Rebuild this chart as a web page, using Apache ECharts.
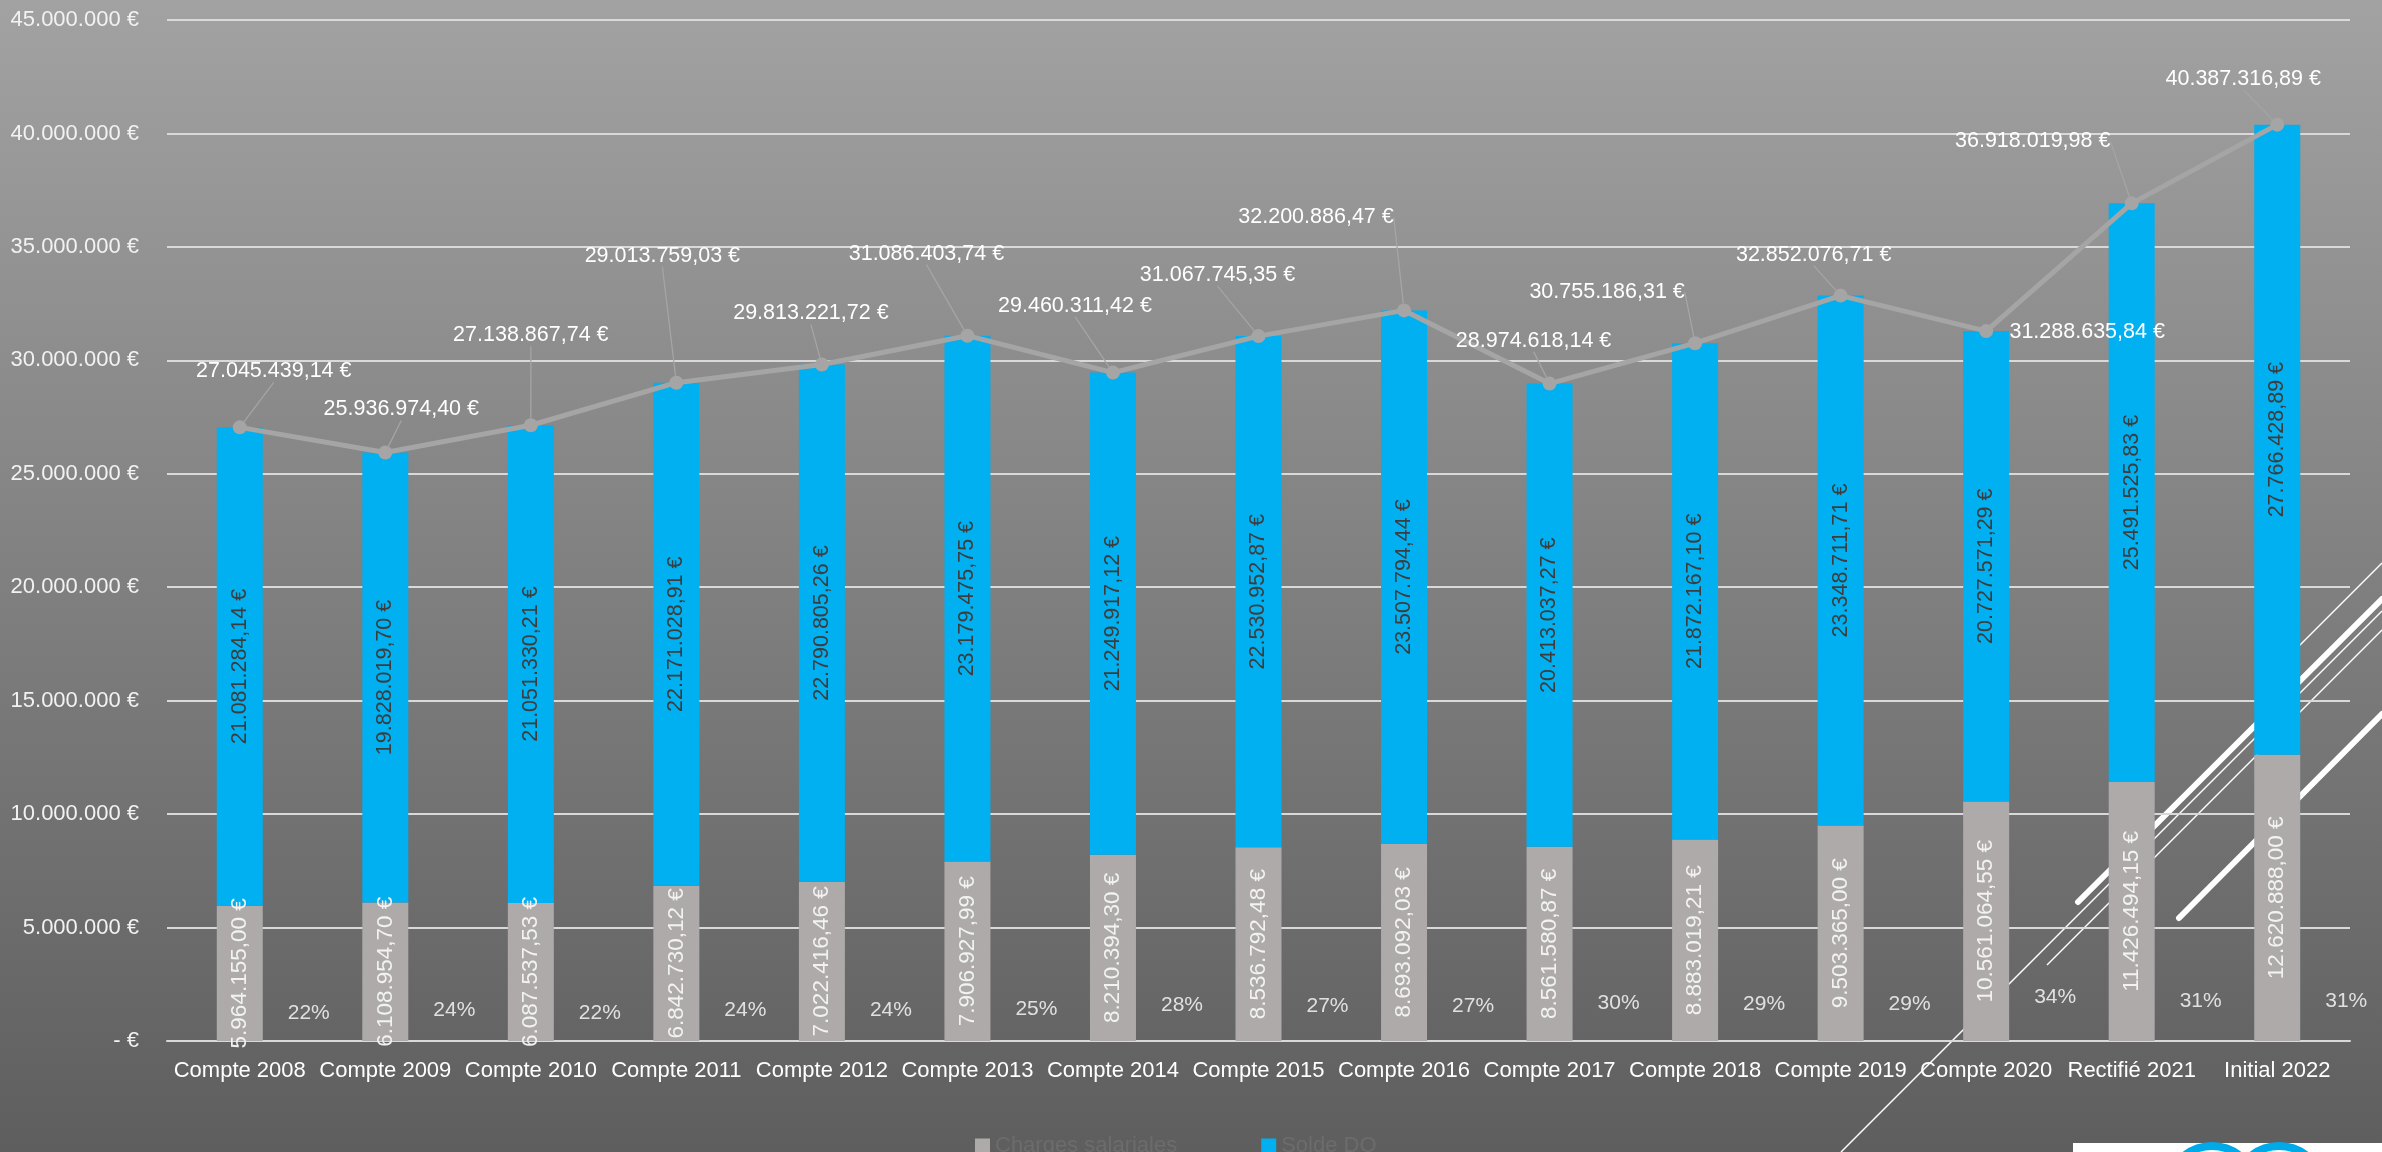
<!DOCTYPE html>
<html>
<head>
<meta charset="utf-8">
<script src="https://cdn.jsdelivr.net/npm/echarts@6/dist/echarts.min.js"></script>
<style>
html,body{margin:0;padding:0;width:2382px;height:1152px;overflow:hidden;background:#7d7d7d;}
#chart{width:2382px;height:1152px;}
</style>
</head>
<body>
<div id="chart"></div>
<script>
// ---- Data ----
const categories = ['Compte 2008','Compte 2009','Compte 2010','Compte 2011','Compte 2012','Compte 2013','Compte 2014','Compte 2015','Compte 2016','Compte 2017','Compte 2018','Compte 2019','Compte 2020','Rectifié 2021','Initial 2022'];
const chargesSalariales = [5964155.00, 6108954.70, 6087537.53, 6842730.12, 7022416.46, 7906927.99, 8210394.30, 8536792.48, 8693092.03, 8561580.87, 8883019.21, 9503365.00, 10561064.55, 11426494.15, 12620888.00];
const soldeDO = [21081284.14, 19828019.70, 21051330.21, 22171028.91, 22790805.26, 23179475.75, 21249917.12, 22530952.87, 23507794.44, 20413037.27, 21872167.10, 23348711.71, 20727571.29, 25491525.83, 27766428.89];
const totals = [27045439.14, 25936974.40, 27138867.74, 29013759.03, 29813221.72, 31086403.74, 29460311.42, 31067745.35, 32200886.47, 28974618.14, 30755186.31, 32852076.71, 31288635.84, 36918019.98, 40387316.89];
const percentages = [22, 24, 22, 24, 24, 25, 28, 27, 27, 30, 29, 29, 34, 31, 31];
const yTicks = { min: 0, max: 45000000, interval: 5000000 };

// ---- Label layout (style, not data) ----
const lineLabelShift = [[34,-56],[16,-43],[0,-90],[-14,-127],[-11,-51],[-41,-82],[-38,-67],[-41,-61],[-88,-93],[-16,-43],[-88,-51],[-27,-41],[101,1],[-99,-62],[-34,-46]];
const noLeader = [12];

const FONT = '"Liberation Sans", Arial, sans-serif';

function fmtEur(v) {
  const parts = Math.abs(v).toFixed(2).split('.');
  const int = parts[0].replace(/\B(?=(\d{3})+(?!\d))/g, '.');
  return int + ',' + parts[1] + ' €';
}
function fmtAxis(v) {
  if (v === 0) return '- €';
  return String(Math.round(v)).replace(/\B(?=(\d{3})+(?!\d))/g, '.') + ' €';
}

const chart = echarts.init(document.getElementById('chart'), null, { renderer: 'canvas' });

const lineData = totals.map((v, i) => {
  const item = { value: v };
  if (noLeader.indexOf(i) >= 0) item.labelLine = { show: false };
  return item;
});

const option = {
  animation: false,
  backgroundColor: {
    type: 'linear', x: 0, y: 0, x2: 0, y2: 1,
    colorStops: [{ offset: 0, color: '#a2a2a2' }, { offset: 1, color: '#5e5e5e' }]
  },
  textStyle: { fontFamily: FONT },
  grid: { left: 167, right: 32, top: 20, bottom: 111, containLabel: false },
  legend: {
    data: ['Charges salariales', 'Solde DO'],
    left: 970, top: 1130,
    icon: 'rect', itemWidth: 15, itemHeight: 15, itemGap: 84,
    textStyle: { color: '#6c6c6c', fontSize: 22, fontFamily: FONT }
  },
  xAxis: {
    type: 'category',
    data: categories,
    axisLine: { show: true, lineStyle: { color: '#d9d9d9', width: 2 } },
    axisTick: { show: false },
    axisLabel: { color: '#ffffff', fontSize: 22, margin: 19, fontFamily: FONT, interval: 0 },
    splitLine: { show: false }
  },
  yAxis: [{
    type: 'value',
    min: yTicks.min, max: yTicks.max, interval: yTicks.interval,
    axisLine: { show: false },
    axisTick: { show: false },
    axisLabel: { color: '#f2f2f2', fontSize: 22, margin: 28, formatter: fmtAxis, fontFamily: FONT },
    splitLine: { show: true, lineStyle: { color: '#d9d9d9', width: 2 } }
  }, {
    type: 'value', show: false, min: 0, max: 800,
    splitLine: { show: false }
  }],
  graphic: [
    { type: 'line', z: -10, silent: true, shape: { x1: 1841, y1: 1152, x2: 2382, y2: 611 }, style: { stroke: '#ffffff', lineWidth: 1.5 } },
    { type: 'line', z: -10, silent: true, shape: { x1: 2047, y1: 965, x2: 2382, y2: 630 }, style: { stroke: '#ffffff', lineWidth: 1.5 } },
    { type: 'line', z: -10, silent: true, shape: { x1: 2264, y1: 681, x2: 2382, y2: 563 }, style: { stroke: '#ffffff', lineWidth: 1.5 } },
    { type: 'line', z: -10, silent: true, shape: { x1: 2078, y1: 902, x2: 2382, y2: 599 }, style: { stroke: '#ffffff', lineWidth: 6, lineCap: 'round' } },
    { type: 'line', z: -10, silent: true, shape: { x1: 2179, y1: 918, x2: 2382, y2: 714 }, style: { stroke: '#ffffff', lineWidth: 6, lineCap: 'round' } },
    { type: 'rect', z: 10, silent: true, shape: { x: 2073, y: 1143, width: 309, height: 20 }, style: { fill: '#ffffff' } },
    { type: 'circle', z: 11, silent: true, shape: { cx: 2212, cy: 1190, r: 44 }, style: { fill: 'none', stroke: '#00a9e8', lineWidth: 8 } },
    { type: 'circle', z: 11, silent: true, shape: { cx: 2279, cy: 1190, r: 44 }, style: { fill: 'none', stroke: '#00a9e8', lineWidth: 8 } }
  ],
  series: [
    {
      name: 'Charges salariales',
      type: 'bar',
      stack: 'total',
      barWidth: 46,
      data: chargesSalariales,
      itemStyle: { color: '#aeaaaa' },
      label: {
        show: true, position: 'inside', rotate: 90,
        color: '#f2f2f2', fontSize: 22.5, fontFamily: FONT,
        textBorderWidth: 0,
        formatter: p => fmtEur(p.value)
      },
      z: 2
    },
    {
      name: 'Solde DO',
      type: 'bar',
      stack: 'total',
      barWidth: 46,
      data: soldeDO,
      itemStyle: { color: '#00b0f0' },
      label: {
        show: true, position: 'inside', rotate: 90,
        color: '#3d3d3d', fontSize: 21.5, fontFamily: FONT,
        textBorderWidth: 0,
        formatter: p => fmtEur(p.value)
      },
      z: 2
    },
    {
      name: 'Total',
      type: 'line',
      data: lineData,
      symbol: 'circle',
      symbolSize: 14,
      itemStyle: { color: '#a5a5a5' },
      lineStyle: { color: '#a5a5a5', width: 5 },
      label: {
        show: true, position: 'inside',
        color: '#ffffff', fontSize: 21.5, fontFamily: FONT,
        textBorderWidth: 0,
        formatter: p => fmtEur(p.value)
      },
      labelLine: { show: true, lineStyle: { color: '#a5a5a5', width: 1.3 } },
      labelLayout: p => ({ dx: lineLabelShift[p.dataIndex][0], dy: lineLabelShift[p.dataIndex][1] }),
      z: 5
    },
    {
      name: 'Part',
      type: 'scatter',
      yAxisIndex: 1,
      data: percentages,
      symbolSize: 1,
      itemStyle: { color: 'rgba(0,0,0,0)' },
      label: {
        show: true, position: 'inside', offset: [69, 0],
        color: '#ffffff', fontSize: 21, fontFamily: FONT,
        textBorderWidth: 0,
        formatter: p => p.value + '%'
      },
      z: 4
    }
  ]
};

chart.setOption(option);
</script>
</body>
</html>
